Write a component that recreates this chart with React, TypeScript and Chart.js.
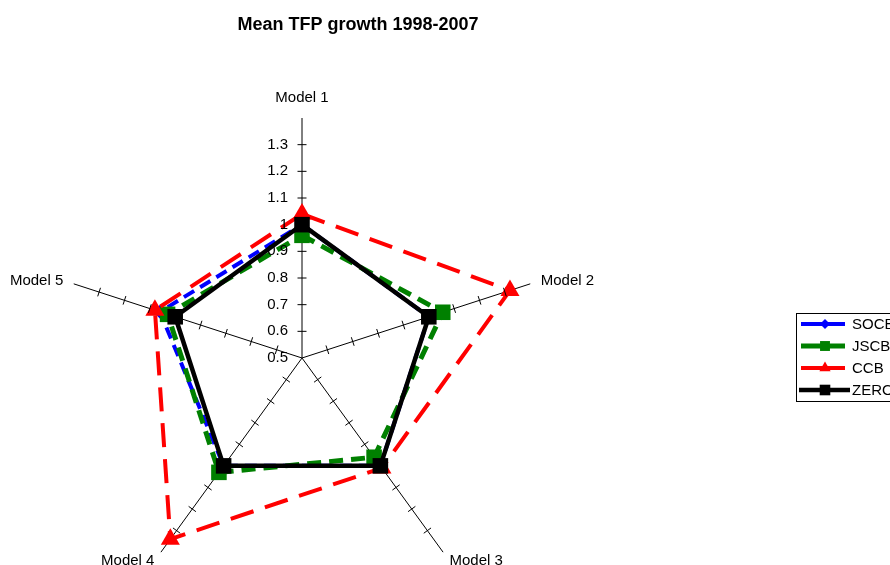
import React, { useEffect, useRef } from 'react';
import { Chart, registerables } from 'chart.js';

Chart.register(...registerables);

const TITLE = 'Mean TFP growth 1998-2007';
const CATEGORIES = ['Model 1', 'Model 2', 'Model 3', 'Model 4', 'Model 5'];
const SERIES_NAMES = ['SOCB', 'JSCB', 'CCB', 'ZERO'];
const SOCB = [1.0, 1.0, 1.0, 1.0, 1.06];
const JSCB = [0.96, 1.055, 0.96, 1.03, 1.03];
const CCB = [1.04, 1.32, 1.01, 1.34, 1.08];
const ZERO = [1, 1, 1, 1, 1];
const TICK_VALUES = [0.5, 0.6, 0.7, 0.8, 0.9, 1.0, 1.1, 1.2, 1.3];
const TICK_LABELS = ['0.5', '0.6', '0.7', '0.8', '0.9', '1', '1.1', '1.2', '1.3'];
const SCALE_MIN = 0.5;
const SCALE_MAX = 1.4;

const FONT = "'Liberation Sans', Arial, sans-serif";

function drawMarker(ctx: CanvasRenderingContext2D, style: string, x: number, y: number, r: number, color: string) {
  ctx.save();
  ctx.fillStyle = color;
  ctx.beginPath();
  if (style === 'rect') {
    const s = r * Math.SQRT1_2;
    ctx.rect(x - s, y - s, 2 * s, 2 * s);
  } else if (style === 'rectRot') {
    ctx.moveTo(x, y - r);
    ctx.lineTo(x + r, y);
    ctx.lineTo(x, y + r);
    ctx.lineTo(x - r, y);
    ctx.closePath();
  } else if (style === 'triangle') {
    for (let k = 0; k < 3; k++) {
      const a = (k * 2 * Math.PI) / 3;
      const px = x + Math.sin(a) * r;
      const py = y - Math.cos(a) * r;
      if (k === 0) ctx.moveTo(px, py);
      else ctx.lineTo(px, py);
    }
    ctx.closePath();
  }
  ctx.fill();
  ctx.restore();
}

const decorPlugin = {
  id: 'decor',
  afterDraw(chart: any) {
    const ctx: CanvasRenderingContext2D = chart.ctx;
    const scale = chart.scales.r;
    ctx.save();
    // Title
    ctx.fillStyle = '#000';
    ctx.font = `bold 18px ${FONT}`;
    ctx.textAlign = 'center';
    ctx.textBaseline = 'middle';
    ctx.fillText(TITLE, 358, 25);

    // Tick marks on each spoke
    ctx.strokeStyle = '#000';
    ctx.lineWidth = 1;
    const n = CATEGORIES.length;
    for (let i = 0; i < n; i++) {
      const a = scale.getIndexAngle(i) - Math.PI / 2;
      const px = -Math.sin(a);
      const py = Math.cos(a);
      for (let t = 1; t < TICK_VALUES.length; t++) {
        const d = scale.getDistanceFromCenterForValue(TICK_VALUES[t]);
        const p = scale.getPointPosition(i, d);
        ctx.beginPath();
        ctx.moveTo(p.x - px * 4.5, p.y - py * 4.5);
        ctx.lineTo(p.x + px * 4.5, p.y + py * 4.5);
        ctx.stroke();
      }
    }

    // Tick labels along first spoke
    ctx.font = `15px ${FONT}`;
    ctx.textAlign = 'right';
    ctx.textBaseline = 'middle';
    for (let t = 0; t < TICK_VALUES.length; t++) {
      const d = scale.getDistanceFromCenterForValue(TICK_VALUES[t]);
      const p = scale.getPointPosition(0, d);
      ctx.fillText(TICK_LABELS[t], p.x - 14, p.y);
    }

    // Point labels
    for (let i = 0; i < n; i++) {
      const p = scale.getPointPosition(i, scale.drawingArea + (i === 0 ? 20 : 11));
      const dx = p.x - scale.xCenter;
      ctx.textAlign = Math.abs(dx) < 1 ? 'center' : dx > 0 ? 'left' : 'right';
      ctx.textBaseline = 'middle';
      ctx.fillText(CATEGORIES[i], p.x, p.y);
    }

    // Legend
    const lx = 796;
    const ly = 313;
    ctx.strokeStyle = '#000';
    ctx.lineWidth = 1;
    ctx.strokeRect(lx + 0.5, ly + 0.5, 200, 88);
    const legendMarkers = [
      { style: 'rectRot', r: 5 },
      { style: 'rect', r: 7 },
      { style: 'triangle', r: 6.5 },
      { style: 'rect', r: 7.5 },
    ];
    chart.data.datasets.forEach((ds: any, k: number) => {
      const y = ly + 11 + k * 22;
      ctx.strokeStyle = ds.borderColor;
      ctx.lineWidth = ds.borderWidth;
      ctx.setLineDash([]);
      ctx.beginPath();
      ctx.moveTo(k === 3 ? 799 : 801, y);
      ctx.lineTo(k === 3 ? 850 : 845, y);
      ctx.stroke();
      drawMarker(ctx, legendMarkers[k].style, 825, y, legendMarkers[k].r, ds.borderColor);
      ctx.fillStyle = '#000';
      ctx.font = `15px ${FONT}`;
      ctx.textAlign = 'left';
      ctx.textBaseline = 'middle';
      ctx.fillText(ds.label, 852, y + 1);
    });
    ctx.restore();
  },
};

export default function App() {
  const canvasRef = useRef<HTMLCanvasElement | null>(null);

  useEffect(() => {
    const canvas = canvasRef.current;
    if (!canvas) return;
    const chart = new Chart(canvas, {
      type: 'radar',
      data: {
        labels: CATEGORIES,
        datasets: [
          {
            label: SERIES_NAMES[0],
            data: SOCB,
            borderColor: '#0000ff',
            backgroundColor: '#0000ff',
            borderWidth: 4,
            borderDash: [12, 7],
            pointStyle: 'rectRot',
            pointRadius: 7,
            pointBorderWidth: 0,
            fill: false,
            order: 3,
          },
          {
            label: SERIES_NAMES[1],
            data: JSCB,
            borderColor: '#008000',
            backgroundColor: '#008000',
            borderWidth: 5,
            borderDash: [14, 8],
            pointStyle: 'rect',
            pointRadius: 11,
            pointBorderWidth: 0,
            fill: false,
            order: 2,
          },
          {
            label: SERIES_NAMES[2],
            data: CCB,
            borderColor: '#ff0000',
            backgroundColor: '#ff0000',
            borderWidth: 4,
            borderDash: [24, 12],
            pointStyle: 'triangle',
            pointRadius: 11,
            pointBorderWidth: 0,
            fill: false,
            order: 1,
          },
          {
            label: SERIES_NAMES[3],
            data: ZERO,
            borderColor: '#000000',
            backgroundColor: '#000000',
            borderWidth: 4.5,
            pointStyle: 'rect',
            pointRadius: 11,
            pointBorderWidth: 0,
            fill: false,
            order: 0,
          },
        ],
      },
      options: {
        responsive: false,
        animation: false,
        devicePixelRatio: 1,
        layout: { padding: { left: 62, right: 348, top: 118, bottom: 42 } },
        elements: { line: { tension: 0, borderCapStyle: 'butt', borderJoinStyle: 'miter' } },
        plugins: {
          legend: { display: false },
          title: { display: false },
          tooltip: { enabled: false },
        },
        scales: {
          r: {
            min: SCALE_MIN,
            max: SCALE_MAX,
            beginAtZero: false,
            ticks: { display: false, stepSize: 0.1 },
            grid: { display: false },
            angleLines: { display: true, color: '#000', lineWidth: 1 },
            pointLabels: { display: false },
          },
        },
      },
      plugins: [decorPlugin],
    });
    return () => chart.destroy();
  }, []);

  return (
    <div style={{ position: 'absolute', left: 0, top: 0, width: 890, height: 565, overflow: 'hidden', background: '#fff' }}>
      <canvas ref={canvasRef} width={890} height={640} style={{ display: 'block', width: 890, height: 640 }} />
    </div>
  );
}
